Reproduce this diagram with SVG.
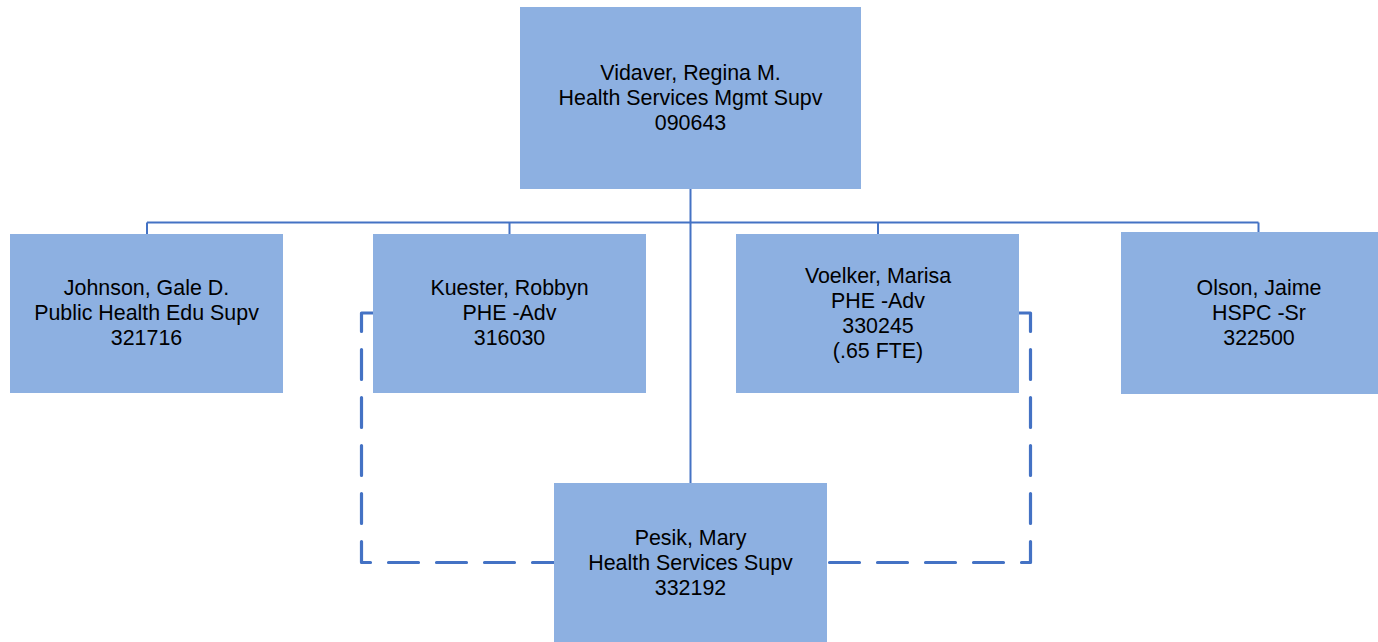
<svg xmlns="http://www.w3.org/2000/svg" width="1378" height="642" viewBox="0 0 1378 642">
<style>
.box{fill:#8DB0E1}
.t{font-family:"Liberation Sans",Arial,sans-serif;font-size:21.4px;fill:#000;text-anchor:middle}
.ln{fill:none;stroke:#4472C4;stroke-width:2}
.dl{fill:none;stroke:#4472C4;stroke-width:3.2;stroke-dasharray:30 18;stroke-linecap:round;stroke-linejoin:round}
</style>
<rect width="1378" height="642" fill="#fff"/>
<g id="connectors">
<path class="ln" d="M690.5 188 V483 M147 222.5 H1258.5 M147 222.5 V234 M509.5 222.5 V234 M878 222.5 V234 M1258.5 222.5 V232"/>
<path class="dl" d="M373 313 H361.5 V562.5 H554"/>
<path class="dl" d="M1019 313 H1030.5 V562.5 H827"/>
</g>
<g id="vidaver">
<rect class="box" x="520" y="7" width="341" height="182"/>
<text class="t" x="690.5" y="80">Vidaver, Regina M.</text>
<text class="t" x="690.5" y="105">Health Services Mgmt Supv</text>
<text class="t" x="690.5" y="130">090643</text>
</g>
<g id="johnson">
<rect class="box" x="10" y="234" width="273" height="159"/>
<text class="t" x="146.5" y="295">Johnson, Gale D.</text>
<text class="t" x="146.5" y="320">Public Health Edu Supv</text>
<text class="t" x="146.5" y="345">321716</text>
</g>
<g id="kuester">
<rect class="box" x="373" y="234" width="273" height="159"/>
<text class="t" x="509.5" y="295">Kuester, Robbyn</text>
<text class="t" x="509.5" y="320">PHE -Adv</text>
<text class="t" x="509.5" y="345">316030</text>
</g>
<g id="voelker">
<rect class="box" x="736" y="234" width="283" height="159"/>
<text class="t" x="878" y="283">Voelker, Marisa</text>
<text class="t" x="878" y="308">PHE -Adv</text>
<text class="t" x="878" y="333">330245</text>
<text class="t" x="878" y="358">(.65 FTE)</text>
</g>
<g id="olson">
<rect class="box" x="1121" y="232" width="274" height="162"/>
<text class="t" x="1259" y="295">Olson, Jaime</text>
<text class="t" x="1259" y="320">HSPC -Sr</text>
<text class="t" x="1259" y="345">322500</text>
</g>
<g id="pesik">
<rect class="box" x="554" y="483" width="273" height="159"/>
<text class="t" x="690.5" y="545">Pesik, Mary</text>
<text class="t" x="690.5" y="570">Health Services Supv</text>
<text class="t" x="690.5" y="595">332192</text>
</g>
</svg>
